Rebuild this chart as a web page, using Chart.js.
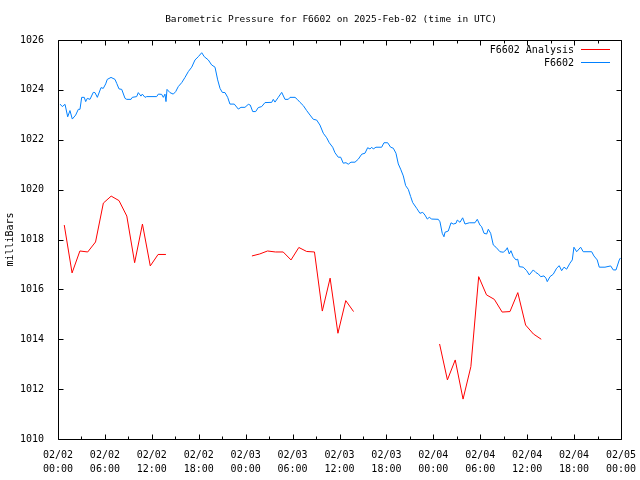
<!DOCTYPE html>
<html><head><meta charset="utf-8">
<script src="https://cdn.jsdelivr.net/npm/chart.js@4/dist/chart.umd.min.js"></script>
<style>html,body{margin:0;padding:0;background:#fff}#c{display:block}</style>
</head><body>
<canvas id="c" width="640" height="480"></canvas>
<script>
// Hours since 2025-02-02 00:00 UTC
const obsHours = [0.26,0.55,0.90,1.24,1.53,1.83,2.26,2.60,2.81,3.03,
3.36,3.54,3.75,4.09,4.51,4.73,5.03,5.50,5.79,6.10,
6.30,6.78,7.29,7.51,7.80,8.15,8.57,8.79,9.34,9.50,
10.06,10.27,10.61,10.78,11.13,11.34,12.62,12.83,13.26,13.47,
13.68,13.81,13.94,14.32,14.74,15.05,15.38,15.82,16.24,16.66,
17.10,17.52,17.94,18.38,18.71,19.22,19.65,20.08,20.42,20.72,
21.01,21.36,21.70,21.99,22.54,23.06,23.40,23.91,24.34,24.59,
24.90,25.28,25.61,26.05,26.47,27.33,27.53,27.75,28.17,28.61,
29.03,29.45,29.67,30.31,30.60,30.95,31.37,31.80,32.23,32.65,
33.08,33.50,33.93,34.36,34.69,35.13,35.42,35.84,36.15,36.48,
36.83,37.12,37.47,37.98,38.40,38.84,39.26,39.60,39.90,40.12,
40.32,40.66,41.39,41.69,42.16,42.54,42.88,43.22,43.52,43.82,
44.16,44.46,44.80,45.10,45.36,45.87,46.29,46.64,46.93,47.23,
47.48,47.79,48.63,48.85,49.14,49.36,49.49,49.91,50.26,50.55,
50.90,51.06,51.41,51.75,52.05,52.60,53.32,53.62,53.96,54.18,
54.48,54.82,55.03,55.33,55.67,56.01,56.52,56.94,57.29,57.46,
57.71,57.93,58.22,58.57,58.79,58.99,59.50,59.94,60.27,60.78,
61.13,61.42,61.73,62.15,62.40,62.57,62.92,63.34,63.77,64.10,
64.41,64.71,65.05,65.47,65.77,65.98,66.33,66.84,67.17,68.25,
68.54,68.96,69.22,69.95,70.68,71.01,71.36,71.78,71.93];
const obsPressure = [1023.43,1023.33,1023.42,1022.92,1023.17,1022.83,1022.99,1023.22,1023.22,1023.70,
1023.70,1023.53,1023.66,1023.62,1023.90,1023.89,1023.70,1024.09,1024.06,1024.24,
1024.42,1024.50,1024.42,1024.26,1024.04,1024.02,1023.66,1023.62,1023.62,1023.70,
1023.73,1023.89,1023.75,1023.83,1023.70,1023.73,1023.73,1023.83,1023.82,1023.70,
1023.83,1023.53,1024.02,1023.89,1023.83,1023.93,1024.13,1024.29,1024.50,1024.73,
1024.91,1025.20,1025.33,1025.49,1025.33,1025.20,1025.00,1024.91,1024.40,1024.06,
1023.90,1023.89,1023.70,1023.43,1023.43,1023.23,1023.30,1023.30,1023.42,1023.39,
1023.13,1023.13,1023.29,1023.33,1023.49,1023.50,1023.62,1023.51,1023.70,1023.90,
1023.62,1023.62,1023.70,1023.70,1023.62,1023.50,1023.37,1023.17,1022.99,1022.82,
1022.79,1022.59,1022.26,1022.08,1021.88,1021.70,1021.48,1021.30,1021.30,1021.06,
1021.08,1021.02,1021.10,1021.10,1021.22,1021.42,1021.46,1021.68,1021.63,1021.70,
1021.63,1021.70,1021.70,1021.88,1021.88,1021.70,1021.66,1021.46,1021.03,1020.82,
1020.55,1020.16,1020.01,1019.72,1019.48,1019.25,1019.05,1019.09,1018.98,1018.82,
1018.89,1018.82,1018.81,1018.71,1018.25,1018.11,1018.29,1018.34,1018.67,1018.62,
1018.65,1018.78,1018.69,1018.87,1018.62,1018.67,1018.67,1018.81,1018.58,1018.51,
1018.25,1018.22,1018.41,1018.25,1017.78,1017.69,1017.51,1017.49,1017.58,1017.67,
1017.42,1017.55,1017.31,1017.18,1017.21,1016.91,1016.89,1016.75,1016.58,1016.78,
1016.67,1016.62,1016.51,1016.54,1016.45,1016.31,1016.51,1016.61,1016.85,1016.95,
1016.75,1016.89,1016.81,1017.05,1017.18,1017.69,1017.51,1017.69,1017.51,1017.51,
1017.34,1017.18,1016.89,1016.89,1016.94,1016.78,1016.78,1017.18,1017.26];

// Analysis series (null = no data, gap in line)
const anaHours = [0.8,1.8,2.8,3.8,4.8,5.8,6.8,7.8,8.8,9.8,10.8,11.8,12.8,13.8,
19,
24.8,25.8,26.8,27.8,28.8,29.8,30.8,31.8,32.8,33.8,34.8,35.8,36.8,37.8,
43,
48.8,49.8,50.8,51.8,52.8,53.8,54.8,55.8,56.8,57.8,58.8,59.8,60.8,61.8];
const anaPressure = [1018.58,1016.66,1017.54,1017.50,1017.90,1019.46,1019.74,1019.56,1018.94,1017.07,1018.62,1016.94,1017.40,1017.40,
null,
1017.34,1017.42,1017.54,1017.50,1017.50,1017.18,1017.68,1017.52,1017.50,1015.13,1016.45,1014.24,1015.55,1015.11,
null,
1013.81,1012.37,1013.17,1011.60,1012.90,1016.51,1015.78,1015.60,1015.09,1015.11,1015.87,1014.57,1014.21,1014.00];

const xTickDates = ['02/02','02/02','02/02','02/02','02/03','02/03','02/03','02/03','02/04','02/04','02/04','02/04','02/05'];
const xTickTimes = ['00:00','06:00','12:00','18:00','00:00','06:00','12:00','18:00','00:00','06:00','12:00','18:00','00:00'];
const yMin = 1010, yMax = 1026, yStep = 2;
const titleText = 'Barometric Pressure for F6602 on 2025-Feb-02 (time in UTC)';
const yTitle = 'milliBars';
const seriesNames = ['F6602 Analysis', 'F6602'];
const seriesColors = ['#ff0000', '#0080ff'];

const MONO = '"DejaVu Sans Mono", "Liberation Mono", monospace';

const decor = {
  id: 'decor',
  afterDraw(chart) {
    const {ctx, chartArea: a, scales: {x, y}} = chart;
    ctx.save();
    ctx.strokeStyle = '#000';
    ctx.lineWidth = 1;
    const L = Math.round(a.left) + 0.5, R = Math.round(a.right) + 0.5;
    const T = Math.round(a.top) + 0.5, B = Math.round(a.bottom) + 0.5;
    ctx.beginPath();
    ctx.rect(L, T, R - L, B - T);
    // x ticks (major every 6h, minor every 3h), bottom and top, inward
    for (let h = x.min; h <= x.max + 1e-6; h += 3) {
      const px = Math.round(x.getPixelForValue(h)) + 0.5;
      const len = (h % 6 === 0) ? 5 : 3;
      ctx.moveTo(px, B); ctx.lineTo(px, B - len);
      ctx.moveTo(px, T); ctx.lineTo(px, T + len);
    }
    for (let v = yMin; v <= yMax; v += yStep) {
      const py = Math.round(y.getPixelForValue(v)) + 0.5;
      ctx.moveTo(L, py); ctx.lineTo(L + 5, py);
      ctx.moveTo(R, py); ctx.lineTo(R - 5, py);
    }
    ctx.stroke();

    ctx.fillStyle = '#000';
    // title
    ctx.font = '9.5px ' + MONO;
    ctx.textAlign = 'center';
    ctx.textBaseline = 'middle';
    ctx.fillText(titleText, 331, 20);
    // y axis title
    ctx.save();
    ctx.translate(10, (a.top + a.bottom) / 2);
    ctx.rotate(-Math.PI / 2);
    ctx.font = '10px ' + MONO;
    ctx.fillText(yTitle, 0, 0);
    ctx.restore();
    // legend
    ctx.font = '10px ' + MONO;
    ctx.textAlign = 'right';
    const ly = [50, 63];
    for (let i = 0; i < seriesNames.length; i++) {
      ctx.fillStyle = '#000';
      ctx.fillText(seriesNames[i], 574, ly[i]);
      ctx.strokeStyle = seriesColors[i];
      ctx.beginPath();
      ctx.moveTo(581, ly[i] - 0.5);
      ctx.lineTo(610, ly[i] - 0.5);
      ctx.stroke();
    }
    ctx.restore();
  }
};

new Chart(document.getElementById('c'), {
  type: 'line',
  data: {
    datasets: [
      {
        label: seriesNames[0],
        data: anaHours.map((h, i) => ({x: h, y: anaPressure[i]})),
        borderColor: seriesColors[0],
        borderWidth: 1,
        pointRadius: 0,
        tension: 0,
        spanGaps: false,
        fill: false
      },
      {
        label: seriesNames[1],
        data: obsHours.map((h, i) => ({x: h, y: obsPressure[i]})),
        borderColor: seriesColors[1],
        borderWidth: 1,
        pointRadius: 0,
        tension: 0,
        fill: false
      }
    ]
  },
  options: {
    responsive: false,
    animation: false,
    devicePixelRatio: 1,
    layout: {padding: {left: 0, right: 19, top: 40, bottom: 0}},
    plugins: {legend: {display: false}, title: {display: false}, tooltip: {enabled: false}},
    scales: {
      x: {
        type: 'linear',
        min: 0, max: 72,
        grid: {display: false},
        border: {display: false},
        afterFit(s) { s.height = 41; s.paddingLeft = 0; s.paddingRight = 0; },
        afterBuildTicks(s) {
          s.ticks = xTickDates.map((d, i) => ({value: i * 6}));
        },
        ticks: {
          autoSkip: false, maxRotation: 0, minRotation: 0,
          padding: 2,
          color: '#000',
          font: {family: MONO, size: 10, lineHeight: 1.35},
          callback: (v, i) => [xTickDates[i], xTickTimes[i]]
        }
      },
      y: {
        min: yMin, max: yMax,
        grid: {display: false},
        border: {display: false},
        afterFit(s) { s.width = 58; s.paddingTop = 0; s.paddingBottom = 0; },
        ticks: {
          stepSize: yStep,
          padding: 6,
          color: '#000',
          font: {family: MONO, size: 10},
          callback: v => String(v)
        }
      }
    }
  },
  plugins: [decor]
});
</script>
</body></html>
